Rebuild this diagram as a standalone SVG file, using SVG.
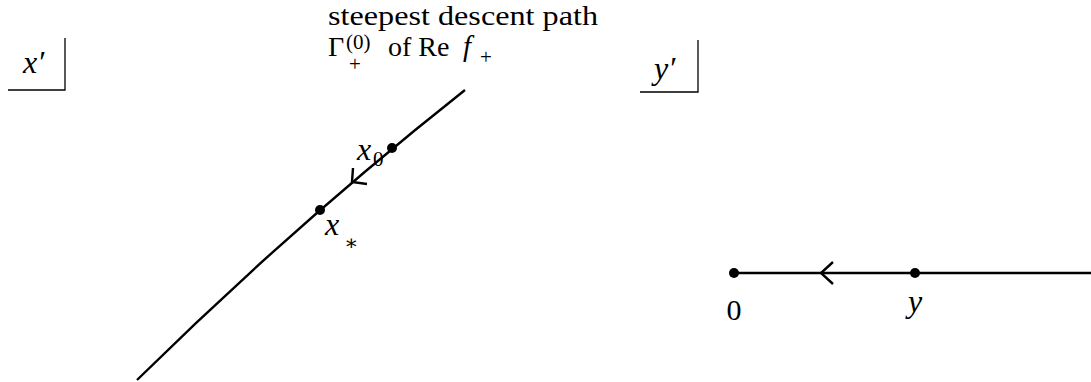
<svg xmlns="http://www.w3.org/2000/svg" width="1091" height="382" viewBox="0 0 1091 382">
<style>
.t{font-family:"Liberation Serif","DejaVu Serif",serif;font-size:30px;fill:#000}
.i{font-style:italic;font-size:32px}
.s{font-size:21px}
.ln{fill:none;stroke:#000;stroke-width:2.4}
.box{fill:none;stroke:#000;stroke-width:1.3}
.dot{fill:#000}
</style>
<rect width="1091" height="382" fill="#fff"/>
<g id="connectors">
<path class="ln" d="M137,380 Q293,226 465,90"/>
<polyline class="ln" points="353,168 352,182 367,184"/>
<line class="ln" x1="734" y1="273" x2="1091" y2="273"/>
<polyline class="ln" points="833,262 821,273 833,284"/>
</g>
<g id="xbox">
<polyline class="box" points="8,90 65,90 65,38"/>
<text class="t i" x="23" y="73">x′</text>
</g>
<g id="ybox">
<polyline class="box" points="640,92 698,92 698,40"/>
<text class="t i" x="654" y="79">y′</text>
</g>
<g id="title">
<text class="t" x="328" y="25" style="font-size:27px" textLength="270" lengthAdjust="spacingAndGlyphs">steepest descent path</text>
<text class="t" x="328" y="56" style="font-size:28px">Γ</text>
<text class="t s" x="346" y="49">(0)</text>
<text class="t s" x="349" y="71">+</text>
<text class="t" x="388" y="56" style="font-size:28px">of Re</text>
<text class="t i" x="463" y="56" style="font-size:29px">f</text>
<text class="t s" x="480" y="64">+</text>
</g>
<g id="x0">
<circle class="dot" cx="392" cy="148" r="5"/>
<text class="t i" x="357" y="160">x</text>
<text class="t s" x="373" y="166">0</text>
</g>
<g id="xstar">
<circle class="dot" cx="320" cy="210" r="5"/>
<text class="t i" x="325" y="235">x</text>
<text class="t s" x="344" y="250">∗</text>
</g>
<g id="zero">
<circle class="dot" cx="734" cy="273" r="5"/>
<text class="t" x="734" y="320" text-anchor="middle">0</text>
</g>
<g id="y">
<circle class="dot" cx="915" cy="273" r="5"/>
<text class="t i" x="915" y="312" text-anchor="middle">y</text>
</g>
</svg>
